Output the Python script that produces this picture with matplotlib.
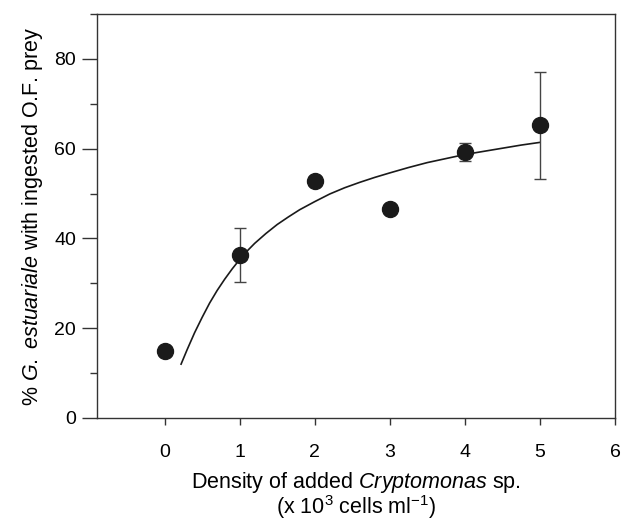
import matplotlib
matplotlib.use("Agg")
import matplotlib.pyplot as plt
from matplotlib.ticker import MultipleLocator

plt.rcParams["font.family"] = ["Liberation Sans", "DejaVu Sans"]
plt.rcParams["mathtext.fontset"] = "custom"
plt.rcParams["mathtext.rm"] = "Liberation Sans"
plt.rcParams["mathtext.it"] = "Liberation Sans:italic"

# measured points (mean +/- error)
density = [0, 1, 2, 3, 4, 5]
pct_ingested = [14.9, 36.4, 52.8, 46.6, 59.2, 65.2]
err = [1.0, 6.0, 1.0, 0.8, 2.0, 11.9]

# fitted curve
curve_x = [0.22, 0.30, 0.40, 0.50, 0.60, 0.70, 0.80, 0.90, 1.00, 1.10, 1.20, 1.35,
           1.50, 1.65, 1.80, 2.00, 2.20, 2.40, 2.60, 2.80, 3.00, 3.25, 3.50, 3.75,
           4.00, 4.25, 4.50, 4.75, 5.00]
curve_y = [12.0, 15.2, 19.0, 22.4, 25.6, 28.4, 30.9, 33.2, 35.3, 37.2, 38.9, 41.1,
           43.1, 44.8, 46.4, 48.2, 49.9, 51.3, 52.5, 53.6, 54.6, 55.8, 56.9, 57.8,
           58.7, 59.4, 60.1, 60.8, 61.4]

ink = "#1a1a1a"

fig = plt.figure(figsize=(6.24, 5.19), dpi=100)
ax = fig.add_axes([97 / 624, 1 - 418 / 519, (615 - 97) / 624, (418 - 14) / 519])

ax.plot(curve_x, curve_y, color=ink, linewidth=1.2, zorder=2)
ax.errorbar(density, pct_ingested, yerr=err, fmt="o", color=ink, ecolor="#444444",
            elinewidth=1.0, capsize=4.5, capthick=1.0, markersize=11.5, zorder=3)

ax.set_xlim(-0.9, 6)
ax.set_ylim(0, 90)
ax.set_xticks(range(0, 7))
ax.yaxis.set_major_locator(MultipleLocator(20))
ax.yaxis.set_minor_locator(MultipleLocator(10))
ax.set_yticks([0, 20, 40, 60, 80])

for s in ax.spines.values():
    s.set_linewidth(1.0)
    s.set_color("#333333")

ax.tick_params(axis="x", direction="out", length=5, width=1.0, pad=14,
               labelsize=14, color="#333333")
ax.tick_params(axis="y", which="major", direction="out", length=11, width=1.0, pad=4,
               labelsize=14, color="#333333")
ax.tick_params(axis="y", which="minor", direction="out", length=5, width=1.0, color="#333333")

ax.set_xlabel("Density of added $\\mathit{Cryptomonas}$ sp.\n(x 10$^3$ cells ml$^{-1}$)",
              fontsize=15.5, labelpad=6, linespacing=0.9)
ax.set_ylabel("% $\\mathit{G.\\ estuariale}$ with ingested O.F. prey", fontsize=15.5, labelpad=7)

fig.savefig("out.png", dpi=100)
